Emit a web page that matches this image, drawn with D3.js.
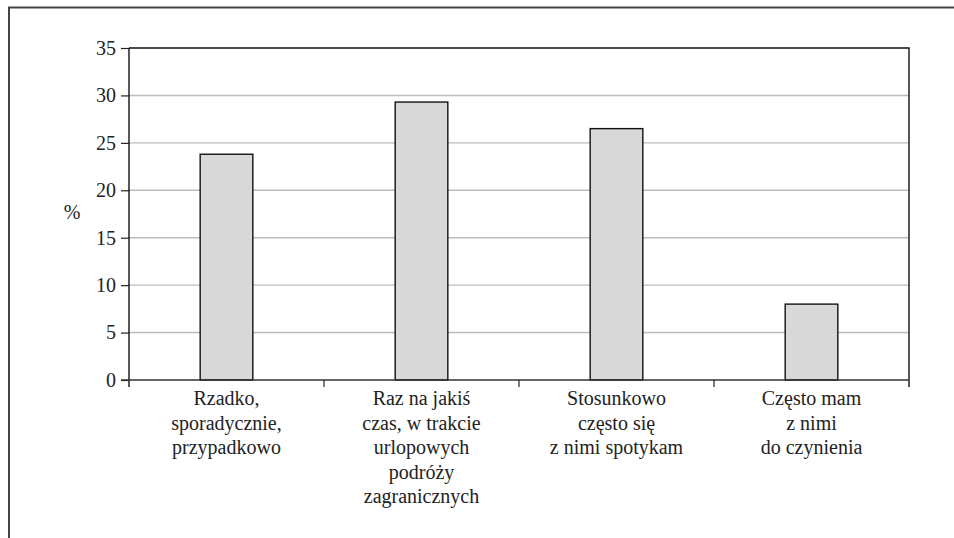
<!DOCTYPE html>
<html><head><meta charset="utf-8">
<script src="https://cdn.jsdelivr.net/npm/d3@7"></script>
<style>body{margin:0;background:#fff}svg{display:block}svg text{font-family:'Liberation Serif' !important}</style>
</head><body>
<svg id="c" width="954" height="538"></svg>
<script>
const categories = [
  ["Rzadko,", "sporadycznie,", "przypadkowo"],
  ["Raz na jakiś", "czas, w trakcie", "urlopowych", "podróży", "zagranicznych"],
  ["Stosunkowo", "często się", "z nimi spotykam"],
  ["Często mam", "z nimi", "do czynienia"]
];
const values = [23.8, 29.3, 26.5, 8.0];
const yTicks = [0, 5, 10, 15, 20, 25, 30, 35];
const yLabel = "%";

const FONT = "Liberation Serif";
const svg = d3.select("#c");
const L = 129, R = 909, T = 48, B = 380;
const x = d3.scaleBand().domain(d3.range(categories.length)).range([L, R]).paddingInner(0).paddingOuter(0);
const y = d3.scaleLinear().domain([0, 35]).range([B, T]);

// outer frame
svg.append("path").attr("d", `M9,538 V7.5 H954`).attr("fill", "none").attr("stroke", "#444").attr("stroke-width", 2);

// gridlines
svg.append("g").selectAll("line").data(yTicks.filter(d => d > 0 && d < 35)).join("line")
  .attr("x1", L).attr("x2", R).attr("y1", d => y(d)).attr("y2", d => y(d))
  .attr("stroke", "#bcbcbc").attr("stroke-width", 1.4);

// plot border top & right
svg.append("path").attr("d", `M${L},${T} H${R} V${B + 7}`).attr("fill", "none").attr("stroke", "#111").attr("stroke-width", 1.4);

// bars
const bw = x.bandwidth() * 0.27;
svg.append("g").selectAll("rect").data(values).join("rect")
  .attr("x", (d, i) => x(i) + x.bandwidth() / 2 - bw / 2)
  .attr("y", d => y(d))
  .attr("width", bw)
  .attr("height", d => B - y(d))
  .attr("fill", "#d8d8d8").attr("stroke", "#111").attr("stroke-width", 1.4);

// y axis
const yAxis = d3.axisLeft(y).tickValues(yTicks).tickSize(8).tickPadding(5).tickSizeOuter(0);
const gy = svg.append("g").attr("transform", `translate(${L},0)`).call(yAxis)
  .attr("font-family", FONT).attr("font-size", 20);
gy.select(".domain").remove();
gy.selectAll(".tick line").attr("stroke", "#222").attr("stroke-width", 1.2);
gy.selectAll(".tick text").attr("fill", "#222");
svg.append("line").attr("x1", L).attr("x2", L).attr("y1", T).attr("y2", B + 7).attr("stroke", "#111").attr("stroke-width", 1.4);

// x axis
svg.append("line").attr("x1", L - 8).attr("x2", R).attr("y1", B).attr("y2", B).attr("stroke", "#333").attr("stroke-width", 1.6);
svg.append("g").selectAll("line").data(d3.range(1, categories.length)).join("line")
  .attr("x1", i => x(i)).attr("x2", i => x(i)).attr("y1", B).attr("y2", B + 7)
  .attr("stroke", "#222").attr("stroke-width", 1.2);

// category labels
const lab = svg.append("g").attr("font-family", FONT).attr("font-size", 20).attr("fill", "#222")
  .selectAll("text").data(categories).join("text")
  .attr("text-anchor", "middle")
  .attr("x", (d, i) => x(i) + x.bandwidth() / 2)
  .attr("y", 405);
lab.selectAll("tspan").data(d => d).join("tspan")
  .attr("x", function () { return this.parentNode.getAttribute("x"); })
  .attr("dy", (d, j) => j === 0 ? 0 : 24.5)
  .text(d => d);

// y label
svg.append("text").attr("x", 72).attr("y", 219).attr("text-anchor", "middle")
  .attr("font-family", FONT).attr("font-size", 20).attr("fill", "#222").text(yLabel);
</script>
</body></html>
